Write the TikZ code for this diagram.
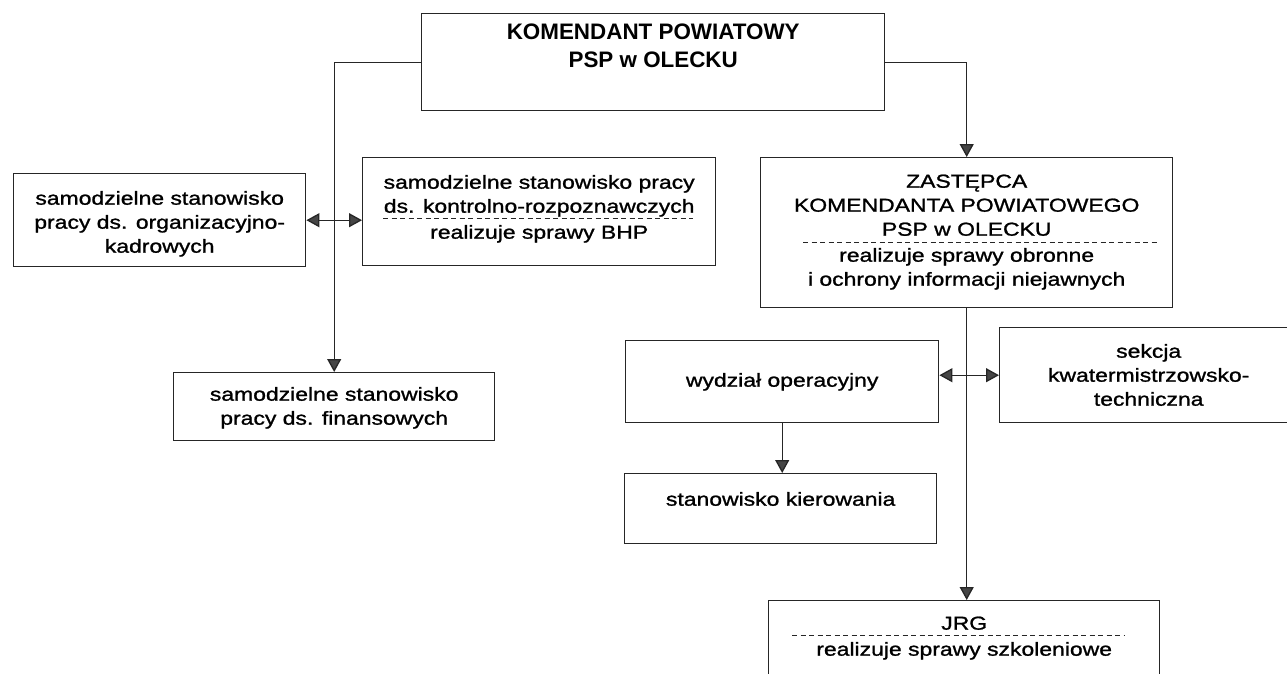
\documentclass[tikz,border=0pt]{standalone}
\usepackage{fontspec}
\setmainfont{Liberation Sans}
\newfontfamily\boxfont{Liberation Sans}[FakeStretch=1.22,FakeBold=1.2]
\usetikzlibrary{arrows.meta}
\definecolor{ink}{gray}{0.15}
\definecolor{tipgray}{gray}{0.27}

\begin{document}
\begin{tikzpicture}[x=1pt,y=-1pt,
   box/.style={draw=ink,line width=1.4pt,anchor=north west,align=center,inner sep=4pt,
               font=\boxfont\fontsize{18.8}{24}\selectfont},
   link/.style={ink,line width=1.3pt,-{Triangle[width=14pt,length=13pt,fill=tipgray]}},
   both/.style={link,{Triangle[width=14pt,length=13pt,fill=tipgray]}-{Triangle[width=14pt,length=13pt,fill=tipgray]}},
   sep/.style={draw=ink,line width=0.9pt,dash pattern=on 5pt off 3.5pt}]
\path[use as bounding box,fill=white] (0,0) rectangle (1287,674);
%
       \node [box,minimum width=463pt,text height=50pt,text depth=39pt,font=\bfseries\fontsize{22.4}{28}\selectfont] at (421,13) (kp) {KOMENDANT POWIATOWY\\PSP w OLECKU};
          \node [box,minimum width=292pt,text height=75pt,text depth=10pt] at (13,173) (kadry) {samodzielne stanowisko\\pracy ds. organizacyjno-\\kadrowych};
             \node [box,minimum width=353pt,text height=77pt,text depth=23pt] at (362,157) (kontrola) {samodzielne stanowisko pracy\\ds. kontrolno-rozpoznawczych\\[2pt]realizuje sprawy BHP};
              \node [box,minimum width=321pt,text height=48pt,text depth=12pt] at (173,372) (finanse) {samodzielne stanowisko\\pracy ds. finansowych};
               \node [box,minimum width=412pt,text height=124pt,text depth=18pt] at (760,157) (zastepca) {ZASTĘPCA\\KOMENDANTA POWIATOWEGO\\PSP w OLECKU\\[2pt]realizuje sprawy obronne\\i ochrony informacji niejawnych};
                \node [box,minimum width=313pt,text height=42pt,text depth=32pt] at (625,340) (operacje) {wydział operacyjny};
                \node [box,minimum width=298pt,text height=74pt,text depth=13pt] at (999,327) (kwatermistrz) {sekcja\\kwatermistrzowsko-\\techniczna};
                  \node [box,minimum width=312pt,text height=28pt,text depth=34pt] at (624,473) (kierowanie) {stanowisko kierowania};
                   \node [box,minimum width=391pt,text height=51pt,text depth=41pt] at (768,600) (jrg) {JRG\\[2pt]realizuje sprawy szkoleniowe};
%
\draw[sep] (383,218) -- (693,218);
\draw[sep] (803,242) -- (1158,242);
\draw[sep] (792,635) -- (1125,635);
%
\draw[link] (kp.west) -| (finanse.north);
\draw[link] (kp.east) -| (zastepca.north);
\path[both] (kadry.east) edge (kadry.east -| kontrola.west);
\path[both] (kwatermistrz.west -| operacje.east) edge (kwatermistrz.west);
\path[link] (zastepca.south) edge (zastepca.south |- jrg.north);
\path[link] (operacje.south) edge (operacje.south |- kierowanie.north);

\end{tikzpicture}
\end{document}
